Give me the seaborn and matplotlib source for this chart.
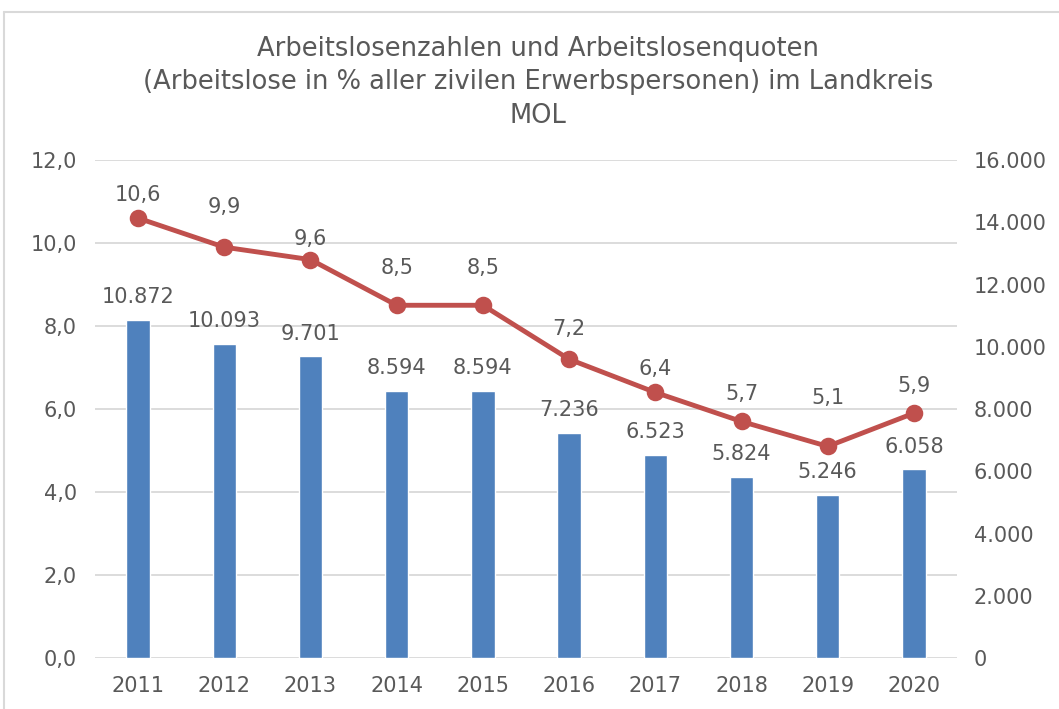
import matplotlib
matplotlib.use("Agg")
import matplotlib.pyplot as plt
from matplotlib.lines import Line2D
import seaborn as sns

# data
jahre = ["2011", "2012", "2013", "2014", "2015", "2016", "2017", "2018", "2019", "2020"]
arbeitslose = [10872, 10093, 9701, 8594, 8594, 7236, 6523, 5824, 5246, 6058]
quote = [10.6, 9.9, 9.6, 8.5, 8.5, 7.2, 6.4, 5.7, 5.1, 5.9]

# label offsets above the points (points), as placed in the original chart
quote_label_offset = [16.5, 29, 15, 26.5, 26.5, 21.5, 17, 20, 35, 19.5]

bar_color = "#4F81BD"
line_color = "#C0504D"
text_color = "#595959"
grid_color = "#D9D9D9"

sns.set_style("white")
plt.rcParams["font.family"] = ["DejaVu Sans"]

fig = plt.figure(figsize=(10.59, 7.09), dpi=100)
ax = fig.add_axes([0.0897, 0.0719, 0.814, 0.7024])
ax2 = ax.twinx()

# line (Quote) on left axis
sns.pointplot(x=jahre, y=quote, ax=ax, color=line_color, markersize=10,
              linewidth=3.5, errorbar=None)
for i, v in enumerate(quote):
    ax.annotate(f"{v:.1f}".replace(".", ","), (i, v),
                xytext=(0, quote_label_offset[i]),
                textcoords="offset points", ha="center", va="center",
                fontsize=15, color=text_color)

# bars (Arbeitslose) on right axis
sns.barplot(x=jahre, y=arbeitslose, ax=ax2, color=bar_color, width=0.27,
            saturation=1, errorbar=None)
ax2.bar_label(ax2.containers[0],
              labels=[f"{v:,}".replace(",", ".") for v in arbeitslose],
              padding=9, fontsize=15, color=text_color)

ax.set_ylim(0, 12)
ax.set_yticks(range(0, 13, 2))
ax.set_yticklabels([f"{v:.1f}".replace(".", ",") for v in range(0, 13, 2)])
ax2.set_ylim(0, 16000)
ax2.set_yticks(range(0, 16001, 2000))
ax2.set_yticklabels([f"{v:,}".replace(",", ".") for v in range(0, 16001, 2000)])
ax.set_xlim(-0.5, 9.5)

ax.grid(axis="y", color=grid_color, linewidth=1.3)
ax.set_axisbelow(True)
for a in (ax, ax2):
    for s in a.spines.values():
        s.set_visible(False)
    a.set_xlabel("")
    a.set_ylabel("")
ax.tick_params(axis="both", length=0, labelsize=15, labelcolor=text_color)
ax.tick_params(axis="y", pad=13)
ax.tick_params(axis="x", pad=13)
ax2.tick_params(axis="y", length=0, labelsize=15, labelcolor=text_color, pad=12)

fig.text(0.508, 0.884,
         "Arbeitslosenzahlen und Arbeitslosenquoten\n"
         "(Arbeitslose in % aller zivilen Erwerbspersonen) im Landkreis\nMOL",
         ha="center", va="center", fontsize=18.5, color=text_color,
         linespacing=1.37)

# chart frame
fig.add_artist(Line2D([0.0038, 1], [0.983, 0.983], color=grid_color, linewidth=1.5))
fig.add_artist(Line2D([0.0038, 0.0038], [0, 0.983], color=grid_color, linewidth=1.5))

fig.savefig("out.png", dpi=100)
